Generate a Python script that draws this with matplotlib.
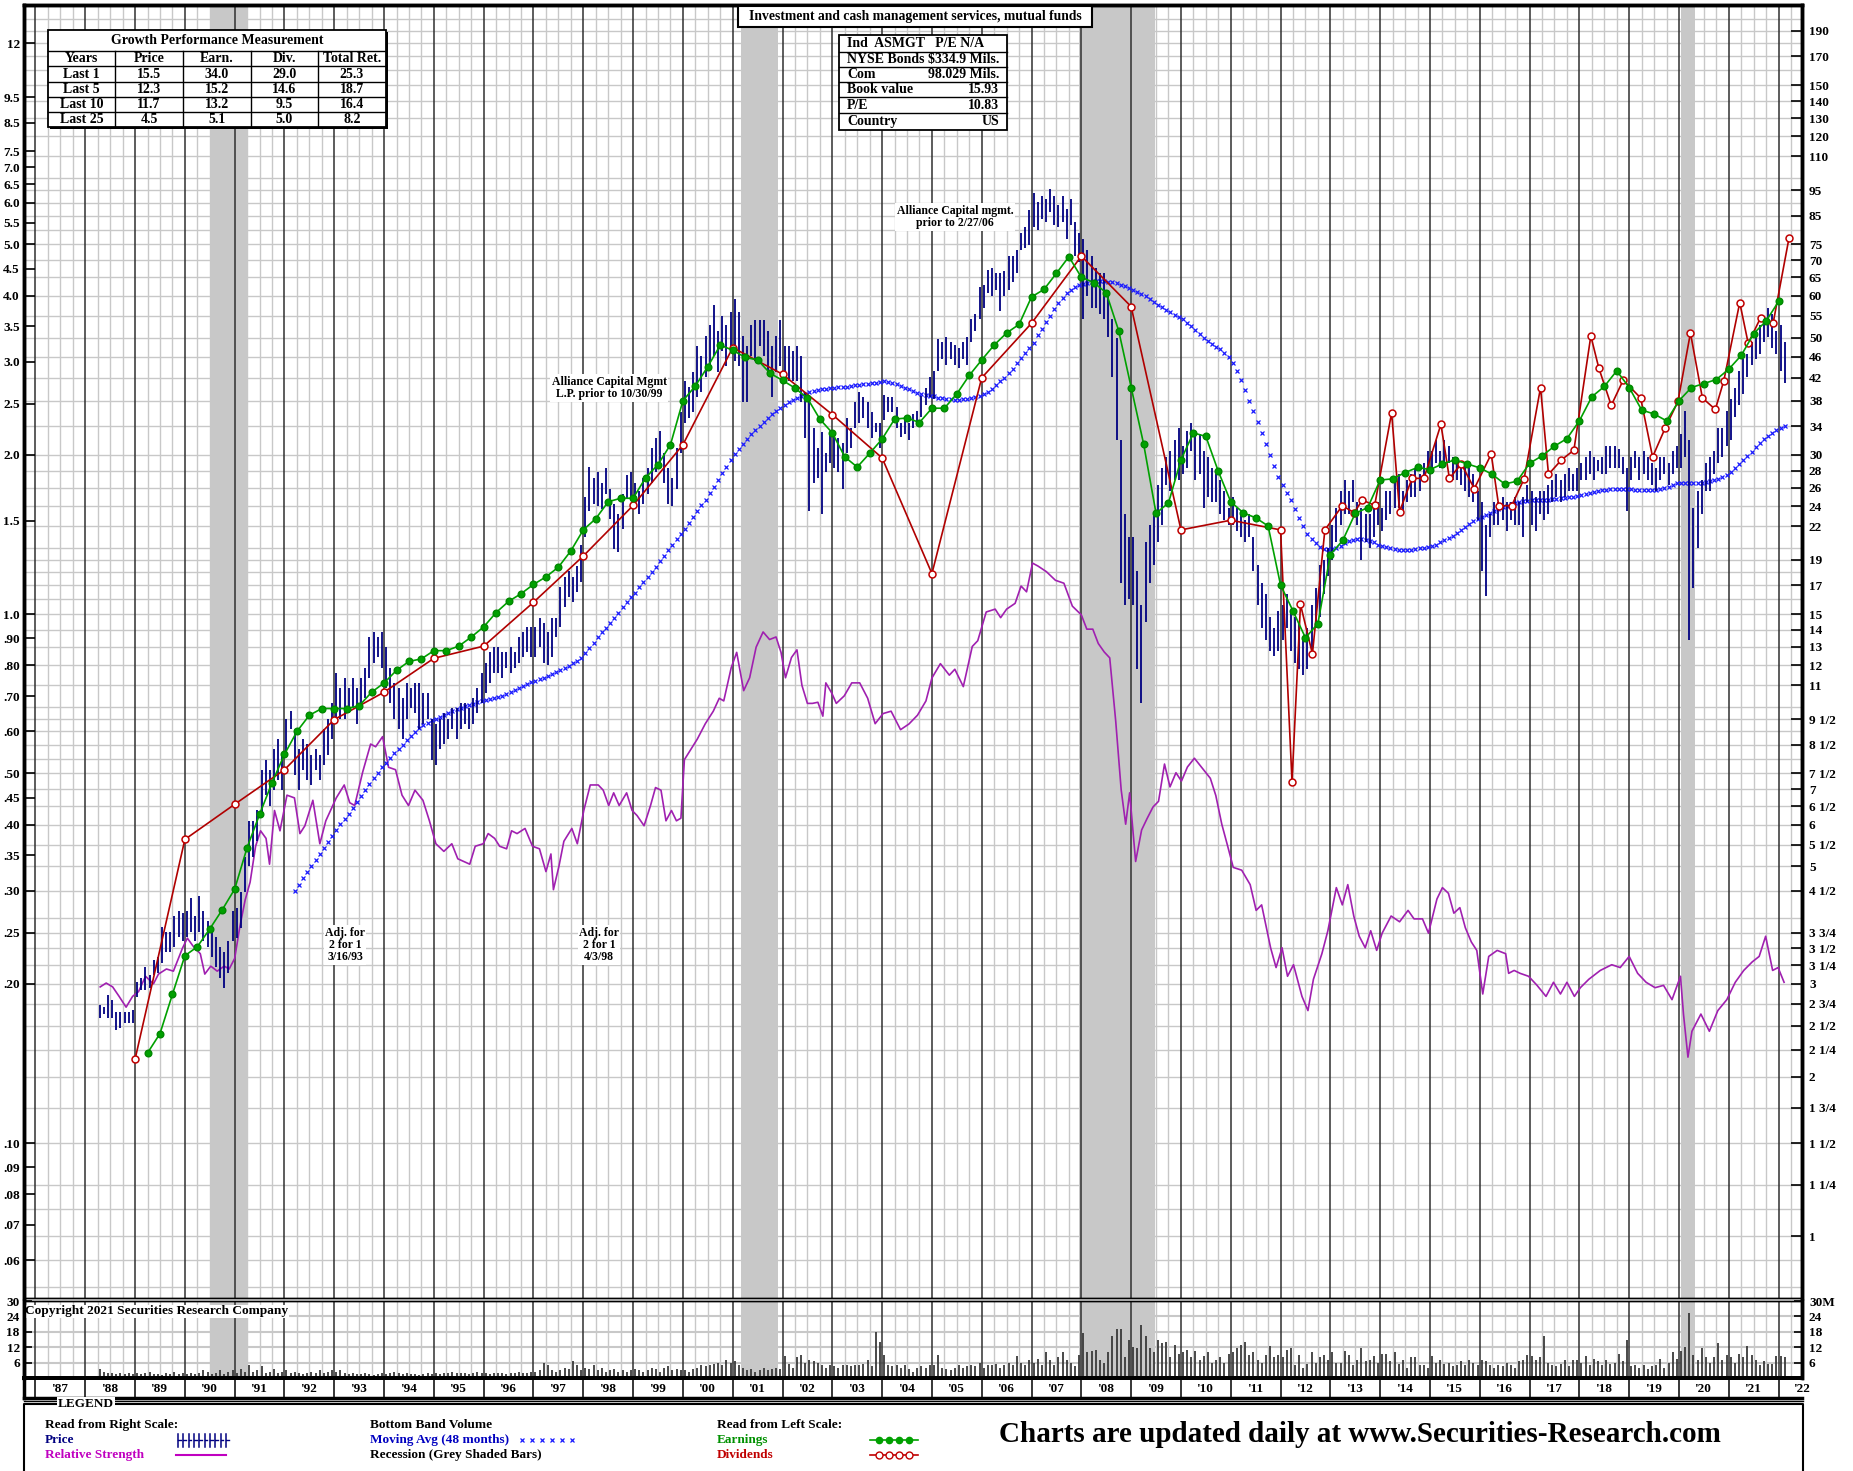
import numpy as np
import matplotlib
matplotlib.use("Agg")
import matplotlib.pyplot as plt
from matplotlib.patches import Rectangle
from matplotlib.ticker import NullLocator

plt.rcParams['font.family'] = ['Liberation Serif', 'DejaVu Serif']
plt.rcParams['font.weight'] = 'bold'

W, H = 1853, 1471
RATIO = 15.0                      # right scale value = 15 x left scale value
XLIM = (1986.77, 2022.47)
YLIM = (0.764, 212.7)             # in right-scale units

# ----------------------------------------------------------------- data
PRICE_START = (1988, 4)           # monthly bars
PRICE_LOW = [
    2.59, 2.63, 2.59, 2.59, 2.45, 2.47, 2.53, 2.53, 2.53,
    2.83, 2.92, 2.92, 2.95, 3.12, 3.15, 3.29, 3.44, 3.44, 3.52, 3.68, 3.61,
    3.68, 3.76, 3.61, 3.76, 3.61, 3.52, 3.37, 3.23, 3.08, 2.95, 3.15, 3.61,
    3.66, 3.83, 4.47, 5.00, 5.22, 5.58, 6.24, 6.82, 6.52, 6.97, 7.29, 6.97,
    8.14, 9.10, 7.45, 6.97, 7.62, 7.29, 7.13, 7.62, 7.29, 7.79, 8.14, 8.71,
    9.31, 9.51, 9.51, 9.74, 9.96, 9.31, 9.96, 10.41, 11.37, 12.15, 12.42, 11.88,
    10.88, 10.18, 9.51, 9.10, 8.71, 9.51, 9.96, 9.74, 9.10, 9.31, 9.51, 7.96,
    7.79, 8.33, 8.52, 8.71, 9.10, 8.71, 9.10, 9.31, 9.10, 9.31, 9.74, 10.18,
    10.64, 11.12, 11.62, 11.62, 11.37, 11.88, 11.62, 11.88, 12.15, 12.42, 12.70, 12.42,
    12.42, 12.99, 12.15, 12.02, 12.42, 13.58, 14.19, 15.44, 16.15, 15.79, 16.51, 17.26,
    21.0, 23.5, 24.2, 24.0, 23.7, 25.3, 22.7, 19.9, 19.7, 21.7, 24.8, 24.8,
    23.7, 23.2, 24.2, 25.3, 26.5, 27.8, 29.0, 26.5, 24.2, 24.0, 25.9, 30.3,
    34.5, 35.3, 36.1, 38.6, 39.5, 42.2, 44.1, 46.1, 43.1, 47.1, 44.1, 47.1,
    45.1, 44.1, 37.8, 37.8, 46.1, 45.1, 48.2, 46.1, 43.1, 38.6, 43.1, 44.1,
    43.1, 41.3, 41.3, 41.3, 37.8, 32.3, 23.5, 26.5, 27.1, 23.2, 27.8, 29.0,
    28.4, 27.8, 25.9, 30.3, 30.9, 33.8, 34.5, 35.3, 33.8, 32.3, 33.1, 30.9,
    34.9, 36.1, 36.1, 33.8, 32.5, 32.9, 32.0, 33.7, 34.5, 35.4, 37.2, 38.6,
    38.2, 43.2, 45.5, 44.3, 45.5, 44.3, 43.8, 45.5, 44.3, 49.0, 51.5, 54.1,
    56.9, 60.6, 59.8, 61.4, 56.2, 59.8, 61.4, 63.7, 66.1, 73.1, 73.9, 74.9,
    80.8, 79.8, 83.9, 82.8, 86.4, 81.8, 80.8, 82.8, 76.8, 81.8, 71.3, 69.5,
    54.1, 59.8, 56.9, 56.9, 55.5, 54.1, 50.2, 42.2, 32.0, 17.2, 15.6, 16.0,
    15.6, 11.8, 10.2, 14.5, 17.2, 18.6, 20.5, 22.1, 26.3, 25.6, 26.9, 26.9,
    27.6, 28.3, 30.5, 26.9, 27.6, 23.8, 25.0, 24.4, 24.4, 23.2, 22.6, 22.1,
    22.1, 21.5, 21.0, 20.5, 21.0, 18.1, 15.6, 14.1, 13.4, 12.8, 12.5, 12.8,
    13.4, 14.1, 12.8, 12.1, 11.8, 11.5, 11.8, 12.8, 14.1, 14.8, 16.4, 17.7,
    19.0, 20.5, 22.1, 23.2, 23.2, 24.4, 22.1, 19.0, 20.5, 20.0, 21.0, 22.1,
    21.5, 22.6, 23.2, 23.8, 23.8, 23.2, 24.4, 25.0, 25.0, 25.6, 26.9, 28.3,
    27.6, 29.0, 28.3, 28.3, 29.0, 26.9, 26.9, 26.3, 25.6, 25.0, 24.4, 22.6,
    18.1, 16.2, 21.0, 22.1, 22.1, 22.6, 21.5, 22.6, 22.1, 22.1, 21.0, 24.4,
    22.1, 21.5, 23.2, 22.6, 23.2, 24.4, 25.0, 24.4, 25.0, 25.6, 25.6, 25.6,
    26.9, 26.9, 27.6, 26.9, 28.0, 27.6, 27.6, 28.3, 28.3, 28.3, 27.6, 23.5,
    26.9, 28.3, 26.9, 27.6, 26.9, 26.3, 25.6, 26.9, 27.6, 26.3, 27.6, 28.3,
    28.3, 29.7, 13.4, 16.8, 20.0, 23.2, 25.6, 25.6, 27.6, 29.0, 29.7, 31.2,
    32.0, 35.4, 37.2, 39.1, 42.2, 44.3, 45.5, 46.6, 49.0, 50.2, 47.8, 46.6,
    43.2, 41.1,
]
PRICE_HIGH = [
    2.74, 2.71, 2.86, 2.79, 2.65, 2.65, 2.65, 2.65, 2.68,
    3.02, 3.08, 3.23, 3.12, 3.33, 3.37, 3.84, 3.76, 3.76, 4.03, 4.12, 4.08,
    4.12, 4.35, 4.03, 4.40, 4.12, 3.95, 3.84, 3.68, 3.52, 3.44, 3.61, 4.12,
    4.18, 4.47, 5.22, 6.10, 6.10, 6.38, 7.62, 7.96, 7.62, 8.33, 8.71, 8.14,
    9.51, 9.83, 9.10, 8.33, 8.71, 8.52, 8.14, 8.33, 8.14, 9.10, 9.51, 10.17,
    11.62, 10.88, 11.37, 10.88, 11.37, 10.88, 11.37, 11.88, 13.58, 13.88, 13.58, 13.88,
    12.99, 11.88, 11.12, 10.88, 10.41, 11.12, 10.88, 11.12, 11.12, 10.64, 10.64, 9.51,
    9.31, 9.51, 9.74, 9.51, 9.96, 9.96, 10.18, 10.18, 9.96, 10.41, 10.88, 11.62,
    12.15, 12.70, 12.99, 12.99, 12.70, 12.70, 12.99, 12.70, 13.58, 13.88, 14.19, 14.19,
    14.19, 14.77, 14.44, 13.88, 14.77, 14.77, 16.88, 17.66, 18.06, 17.66, 18.47, 20.25,
    25.0, 28.5, 27.1, 27.8, 26.5, 28.4, 25.9, 24.2, 23.2, 25.3, 27.5, 27.8,
    26.5, 25.6, 27.1, 28.4, 30.9, 32.3, 33.3, 30.3, 28.4, 27.1, 30.9, 36.1,
    41.3, 40.4, 43.1, 48.2, 46.1, 50.4, 52.7, 57.5, 51.5, 55.0, 52.7, 56.0,
    59.2, 56.0, 50.4, 48.2, 52.7, 54.0, 54.0, 54.0, 51.5, 48.2, 50.4, 54.0,
    48.2, 48.2, 47.1, 48.2, 46.1, 39.5, 37.8, 33.8, 30.9, 33.1, 30.3, 33.1,
    33.1, 32.3, 31.6, 35.3, 33.8, 37.8, 39.5, 38.6, 37.8, 36.1, 34.5, 34.5,
    39.0, 38.6, 38.6, 36.9, 34.5, 35.0, 34.5, 35.8, 36.3, 38.7, 40.1, 42.2,
    43.2, 49.6, 49.0, 50.2, 49.0, 48.4, 47.8, 49.0, 50.2, 54.1, 55.5, 62.2,
    62.9, 67.0, 67.8, 66.1, 66.1, 66.9, 71.3, 71.3, 73.1, 78.8, 80.8, 87.0,
    93.8, 90.3, 92.6, 91.5, 95.5, 92.6, 89.2, 92.6, 87.6, 91.5, 82.8, 78.8,
    76.8, 73.1, 71.3, 67.8, 66.1, 66.1, 61.4, 54.1, 50.0, 32.0, 23.2, 21.0,
    21.0, 18.1, 15.6, 20.5, 22.1, 23.2, 26.3, 28.3, 29.7, 30.5, 32.0, 33.7,
    31.2, 33.3, 34.5, 32.9, 32.9, 30.5, 29.7, 28.3, 27.6, 26.9, 25.6, 23.8,
    25.0, 23.8, 23.2, 22.6, 23.2, 21.0, 18.6, 17.2, 16.4, 14.8, 14.1, 15.2,
    15.6, 16.4, 15.2, 14.8, 14.5, 13.4, 14.1, 15.6, 16.8, 18.6, 19.0, 20.0,
    22.1, 23.8, 25.6, 26.9, 25.6, 26.9, 24.4, 23.8, 23.2, 23.2, 23.8, 24.4,
    23.8, 25.6, 25.6, 26.9, 27.6, 25.6, 26.9, 27.6, 28.3, 27.6, 29.0, 30.5,
    30.5, 32.0, 30.5, 32.0, 31.2, 29.7, 29.7, 29.0, 29.0, 28.3, 27.6, 25.6,
    24.4, 22.1, 23.2, 24.4, 24.4, 25.0, 24.4, 24.4, 25.0, 24.4, 25.0, 26.3,
    25.6, 25.0, 25.6, 25.6, 26.3, 26.9, 27.6, 26.9, 27.6, 28.3, 27.6, 28.3,
    29.0, 29.7, 30.5, 29.7, 29.4, 29.7, 31.2, 31.2, 31.2, 30.8, 29.7, 28.3,
    29.7, 30.5, 29.7, 30.5, 29.7, 29.0, 28.3, 29.7, 29.7, 29.0, 30.5, 31.2,
    32.9, 36.3, 32.0, 23.8, 25.6, 26.9, 29.0, 29.7, 30.5, 33.7, 33.7, 36.3,
    38.2, 40.1, 43.2, 45.5, 46.6, 49.0, 51.5, 52.8, 54.1, 56.9, 55.5, 51.5,
    52.8, 49.0,
]
VOLUME = [   # millions of shares, monthly, same months as price bars
    3.5, 2.5, 2, 2, 1.5, 2, 1.5, 2, 1.5,
    2, 1.5, 2, 2.5, 1.5, 1.5, 1, 2, 1.5, 2.5, 1.5, 2,
    1.5, 2, 1.5, 2, 3, 2.5, 1.5, 2, 3, 1.5, 2.5, 3,
    2, 3.5, 2.5, 5, 2.5, 3, 4.5, 2, 2.5, 3.5, 2, 2.5,
    3, 2, 2.5, 2, 1.5, 2, 2.5, 2, 3, 2, 2.5, 3,
    2.5, 3, 2, 1.5, 2, 1.5, 1.5, 2, 1.5, 1, 1.5, 2,
    1.5, 2, 2.5, 2, 1.5, 2, 1.5, 1.5, 1, 1.5, 2, 1.5,
    2, 1.5, 2, 2, 2.5, 2, 2, 2, 1.5, 2, 2.5, 2,
    2, 1.5, 2, 2, 2, 1.5, 2, 2, 2.5, 2, 2, 2.5,
    2.5, 3, 6, 5, 3, 2.5, 3, 4, 3.5, 6.5, 5, 3,
    4, 3.5, 5, 3, 4, 2.5, 3, 3.5, 2.5, 3, 2.5, 3,
    3.5, 3, 2.5, 3, 4, 3.5, 2.5, 4, 4.5, 3, 3.5, 3,
    3, 2.5, 3.5, 4, 5, 4.5, 5, 5.5, 6, 5, 7, 6,
    6.5, 5, 4, 3, 3.5, 2.5, 3, 4, 3, 3.5, 4, 3.5,
    8.5, 5.5, 4, 8, 9, 6, 7, 6.5, 6, 5, 4, 5,
    4.5, 4, 5, 5, 4.5, 5, 5, 5.5, 7, 4.5, 18, 14,
    9, 5, 4.5, 5, 4, 5, 3.5, 2.5, 4, 4.5, 4, 5,
    5, 9, 4, 3.5, 3, 4, 5, 4, 4.5, 5, 4.5, 6,
    4, 5, 5, 5.5, 4, 5, 6, 5, 8.5, 6, 5, 7,
    6, 7.5, 5, 10, 7, 5, 8, 10, 7, 6, 4.5, 9,
    17.5, 10, 10.5, 11, 7, 6, 10, 16.5, 19, 19, 8, 15,
    12, 11.5, 20.5, 16.5, 11.5, 10, 15, 13.5, 14, 8, 13, 9.5,
    10, 11, 8, 10.5, 7, 8.5, 10, 6, 7, 8, 6, 9.5,
    10, 11.5, 13, 14, 9, 10, 7, 6, 9, 12.5, 8, 9,
    8, 11, 11.5, 5, 9, 4, 5.5, 10, 6, 8, 9, 7,
    10, 6, 6, 10.5, 9, 5, 7, 11.5, 6.5, 7, 8.5, 6,
    9.5, 9.5, 6.5, 10, 5.5, 7, 4, 8, 8, 5, 5, 4,
    8.5, 6, 7, 5.5, 6, 4.5, 5, 6.5, 5, 7, 6, 5,
    7, 6.5, 5, 4, 5, 4.5, 6, 5, 4, 6.5, 7, 9,
    8.5, 7, 8, 16.5, 6, 5, 4.5, 5.5, 7, 4.5, 7, 7,
    6, 8.5, 5, 7.5, 6.5, 5, 7, 5.5, 6, 9.5, 6.5, 15,
    4.5, 5, 4, 5, 3.5, 4.5, 5, 7.5, 4, 6, 10, 7.5,
    10.5, 12, 25.5, 9, 7, 11.5, 8, 6, 8, 13.5, 7, 9,
    8, 6, 9.5, 8, 12.5, 9, 7, 5, 6.5, 5.5, 5.5, 8.5,
    8.5, 8,
]
MA_START = (1992, 3)              # 48-month moving average, monthly
MA_48 = [
    4.49, 4.62, 4.75, 4.88, 5.01, 5.15, 5.29, 5.43, 5.57, 5.72,
    5.87, 6.02, 6.15, 6.28, 6.45, 6.62, 6.80, 6.98, 7.17, 7.34, 7.52, 7.70,
    7.86, 8.02, 8.18, 8.33, 8.50, 8.66, 8.82, 8.97, 9.12, 9.25, 9.35, 9.45,
    9.52, 9.60, 9.68, 9.76, 9.84, 9.91, 9.98, 10.04, 10.10, 10.16, 10.21, 10.26,
    10.30, 10.35, 10.40, 10.46, 10.52, 10.60, 10.68, 10.77, 10.87, 10.97, 11.07, 11.16,
    11.22, 11.30, 11.38, 11.47, 11.56, 11.66, 11.76, 11.87, 11.98, 12.10, 12.22, 12.40,
    12.65, 12.95, 13.25, 13.55, 13.85, 14.15, 14.45, 14.78, 15.10, 15.45, 15.80, 16.15,
    16.45, 16.85, 17.25, 17.65, 18.05, 18.45, 18.90, 19.35, 19.80, 20.30, 20.80, 21.30,
    21.7, 22.3, 22.9, 23.5, 24.1, 24.7, 25.4, 26.1, 26.9, 27.7, 28.5, 29.4,
    30.1, 30.8, 31.5, 32.2, 32.8, 33.4, 34.0, 34.6, 35.2, 35.8, 36.3, 36.8,
    37.3, 37.7, 38.1, 38.5, 38.8, 39.1, 39.4, 39.6, 39.8, 39.9, 40.0, 40.1,
    40.2, 40.3, 40.3, 40.4, 40.5, 40.6, 40.7, 40.8, 40.9, 41.0, 41.1, 41.2,
    41.3, 41.2, 41.0, 40.8, 40.5, 40.2, 39.9, 39.6, 39.3, 39.1, 38.9, 38.8,
    38.7, 38.5, 38.4, 38.3, 38.2, 38.1, 38.1, 38.2, 38.3, 38.4, 38.6, 38.8,
    39.1, 39.5, 40.0, 40.6, 41.3, 42.0, 42.8, 43.7, 44.7, 45.7, 46.7, 47.7,
    48.9, 50.5, 52.0, 53.5, 55.0, 56.6, 58.1, 59.5, 60.6, 61.5, 62.2, 62.8,
    63.2, 63.5, 63.8, 64.0, 64.1, 64.0, 63.8, 63.6, 63.3, 62.9, 62.5, 62.1,
    61.6, 61.0, 60.4, 59.8, 59.1, 58.4, 57.7, 57.0, 56.4, 55.8, 55.2, 54.7,
    54.1, 53.3, 52.5, 51.6, 50.8, 50.0, 49.3, 48.7, 48.0, 47.5, 46.8, 46.0,
    44.8, 43.3, 41.6, 39.8, 38.0, 36.3, 34.6, 33.0, 31.5, 30.0, 28.6, 27.3,
    26.3, 25.4, 24.6, 23.7, 22.8, 22.0, 21.3, 20.8, 20.4, 20.1, 19.9, 19.9,
    19.9, 20.0, 20.2, 20.4, 20.6, 20.7, 20.8, 20.8, 20.7, 20.6, 20.5, 20.3,
    20.2, 20.1, 20.0, 19.9, 19.8, 19.8, 19.8, 19.8, 19.9, 20.0, 20.0, 20.1,
    20.2, 20.3, 20.5, 20.7, 20.9, 21.1, 21.4, 21.6, 21.9, 22.2, 22.5, 22.7,
    22.9, 23.1, 23.3, 23.5, 23.7, 23.9, 24.0, 24.2, 24.3, 24.4, 24.5, 24.5,
    24.6, 24.6, 24.6, 24.7, 24.7, 24.8, 24.8, 24.9, 24.9, 25.0, 25.0, 25.1,
    25.2, 25.3, 25.4, 25.5, 25.6, 25.7, 25.8, 25.9, 25.9, 25.9, 25.9, 25.9,
    25.9, 25.8, 25.7, 25.7, 25.7, 25.8, 25.8, 25.9, 26.0, 26.1, 26.3, 26.5,
    26.6, 26.6, 26.6, 26.6, 26.6, 26.6, 26.7, 26.8, 26.9, 27.0, 27.2, 27.5,
    27.9, 28.3, 28.8, 29.3, 29.8, 30.4, 31.0, 31.6, 32.1, 32.6, 33.0, 33.4,
    33.7, 34.0,
]
EARN_START, EARN_STEP = 1989.25, 0.25     # quarterly earnings (left scale)
EARNINGS = [
    0.148, 0.161, 0.191, 0.226, 0.235, 0.254, 0.276, 0.302, 0.362, 0.418,
    0.480, 0.543, 0.600, 0.644, 0.663, 0.663, 0.663, 0.671, 0.712, 0.741,
    0.783, 0.814, 0.823, 0.853, 0.853, 0.870, 0.905, 0.946, 1.007, 1.057,
    1.093, 1.138, 1.176, 1.227, 1.317, 1.443, 1.515, 1.631, 1.656, 1.656,
    1.810, 1.918, 2.091, 2.532, 2.700, 2.938, 3.225, 3.155, 3.058, 3.024,
    2.854, 2.767, 2.676, 2.560, 2.337, 2.201, 1.983, 1.897, 2.014, 2.143,
    2.337, 2.349, 2.303, 2.451, 2.451, 2.609, 2.827, 3.024, 3.227, 3.401,
    3.530, 3.979, 4.111, 4.410, 4.740, 4.334, 4.236, 4.050, 3.434, 2.682,
    2.099, 1.551, 1.623, 1.957, 2.201, 2.168, 1.862, 1.631, 1.555, 1.521,
    1.468, 1.135, 1.014, 0.902, 0.960, 1.296, 1.379, 1.551, 1.590, 1.793,
    1.802, 1.852, 1.894, 1.876, 1.923, 1.957, 1.923, 1.890, 1.838, 1.762,
    1.784, 1.928, 1.992, 2.078, 2.147, 2.320, 2.576, 2.694, 2.884, 2.682,
    2.432, 2.390, 2.320, 2.532, 2.682, 2.729, 2.777, 2.905, 3.084, 3.392,
    3.583, 3.901,
]
DIVIDENDS = [  # (date, value on left scale)
    (1989.0, 0.144), (1990.0, 0.375), (1991.0, 0.437), (1992.0, 0.508),
    (1993.0, 0.632), (1994.0, 0.712), (1995.0, 0.825), (1996.0, 0.870),
    (1997.0, 1.053), (1998.0, 1.288), (1999.0, 1.605), (2000.0, 2.091),
    (2001.0, 3.190), (2002.0, 2.842), (2003.0, 2.384), (2004.0, 1.974),
    (2005.0, 1.193), (2006.0, 2.798), (2007.0, 3.548), (2008.0, 4.752),
    (2009.0, 3.815), (2010.0, 1.443), (2011.0, 1.505), (2012.0, 1.443),
    (2012.23, 0.482), (2012.40, 1.043), (2012.64, 0.841), (2012.89, 1.443),
    (2013.24, 1.603), (2013.48, 1.555), (2013.64, 1.643), (2013.89, 1.606),
    (2014.23, 2.402), (2014.39, 1.563), (2014.64, 1.806), (2014.88, 1.806),
    (2015.22, 2.285), (2015.39, 1.806), (2015.63, 1.923), (2015.89, 1.727),
    (2016.23, 2.007), (2016.38, 1.603), (2016.64, 1.603), (2016.89, 1.802),
    (2017.22, 2.682), (2017.38, 1.838), (2017.64, 1.957), (2017.89, 2.042),
    (2018.23, 3.357), (2018.39, 2.920), (2018.64, 2.481), (2018.88, 2.770),
    (2019.23, 2.563), (2019.47, 1.982), (2019.72, 2.245), (2019.98, 2.525),
    (2020.23, 3.401), (2020.47, 2.563), (2020.73, 2.438), (2020.90, 2.763),
    (2021.22, 3.882), (2021.39, 3.250), (2021.64, 3.637), (2021.89, 3.548),
    (2022.21, 5.147),
]
REL_STRENGTH = [  # (date, value on right scale)
    (1988.30, 2.96), (1988.42, 3.01), (1988.55, 2.96), (1988.68, 2.84), (1988.82, 2.71),
    (1988.95, 2.84), (1989.07, 2.90), (1989.21, 3.10), (1989.37, 3.00), (1989.47, 3.13),
    (1989.63, 3.20), (1989.77, 3.17), (1989.95, 3.50), (1990.05, 3.66), (1990.16, 3.54),
    (1990.31, 3.42), (1990.40, 3.13), (1990.52, 3.24), (1990.65, 3.17), (1990.79, 3.24),
    (1990.89, 3.20), (1991.00, 3.35), (1991.10, 3.83), (1991.21, 4.32), (1991.31, 4.67),
    (1991.42, 5.46), (1991.52, 5.84), (1991.63, 5.65), (1991.70, 5.05), (1991.80, 6.38),
    (1991.91, 5.84), (1992.05, 6.82), (1992.20, 6.74), (1992.31, 5.77), (1992.41, 5.97),
    (1992.57, 6.67), (1992.71, 5.52), (1992.83, 6.10), (1993.04, 6.74), (1993.20, 7.13),
    (1993.31, 6.60), (1993.41, 6.52), (1993.57, 7.54), (1993.73, 8.52), (1993.83, 8.42),
    (1993.97, 8.80), (1994.09, 7.70), (1994.23, 7.62), (1994.36, 6.82), (1994.49, 6.52),
    (1994.62, 6.97), (1994.78, 6.67), (1994.91, 6.10), (1995.04, 5.52), (1995.20, 5.34),
    (1995.36, 5.52), (1995.48, 5.17), (1995.72, 5.05), (1995.83, 5.46), (1995.99, 5.52),
    (1996.09, 5.77), (1996.22, 5.65), (1996.32, 5.46), (1996.46, 5.40), (1996.56, 5.84),
    (1996.67, 5.77), (1996.83, 5.90), (1996.98, 5.46), (1997.12, 5.40), (1997.25, 4.89),
    (1997.35, 5.28), (1997.40, 4.52), (1997.51, 5.00), (1997.61, 5.58), (1997.77, 5.90),
    (1997.88, 5.52), (1998.01, 6.38), (1998.14, 7.13), (1998.30, 7.13), (1998.40, 6.97),
    (1998.51, 6.52), (1998.61, 6.89), (1998.72, 6.52), (1998.87, 6.89), (1998.98, 6.38),
    (1999.08, 6.24), (1999.22, 5.97), (1999.35, 6.52), (1999.45, 7.05), (1999.56, 6.97),
    (1999.66, 6.10), (1999.77, 6.38), (1999.87, 6.10), (1999.96, 6.17), (2000.03, 7.96),
    (2000.13, 8.24), (2000.29, 8.71), (2000.45, 9.31), (2000.61, 9.83), (2000.73, 10.40),
    (2000.82, 10.28), (2000.97, 11.88), (2001.08, 12.70), (2001.22, 10.75), (2001.34, 11.37),
    (2001.47, 12.99), (2001.61, 13.88), (2001.74, 13.43), (2001.87, 13.58), (2001.97, 12.70),
    (2002.06, 11.37), (2002.18, 12.42), (2002.29, 12.84), (2002.39, 11.00), (2002.50, 10.17),
    (2002.60, 10.17), (2002.71, 10.22), (2002.81, 9.62), (2002.87, 11.12), (2002.99, 10.63),
    (2003.08, 10.17), (2003.24, 10.51), (2003.39, 11.12), (2003.55, 11.12), (2003.71, 10.40),
    (2003.86, 9.31), (2004.02, 9.73), (2004.18, 9.83), (2004.37, 9.07), (2004.54, 9.30),
    (2004.71, 9.66), (2004.88, 10.28), (2005.00, 11.36), (2005.17, 12.09), (2005.35, 11.50),
    (2005.46, 11.80), (2005.63, 10.94), (2005.81, 13.03), (2005.92, 13.36), (2006.09, 15.14),
    (2006.27, 15.33), (2006.38, 14.77), (2006.50, 15.33), (2006.67, 15.72), (2006.79, 16.95),
    (2006.90, 16.53), (2007.02, 18.73), (2007.13, 18.49), (2007.30, 18.04), (2007.48, 17.38),
    (2007.65, 17.16), (2007.82, 15.53), (2008.00, 14.95), (2008.11, 14.05), (2008.23, 14.05),
    (2008.34, 13.20), (2008.46, 12.72), (2008.57, 12.40), (2008.69, 9.42), (2008.80, 6.98),
    (2008.89, 6.01), (2008.97, 6.89), (2009.09, 5.11), (2009.21, 5.86), (2009.32, 6.16),
    (2009.44, 6.48), (2009.55, 6.64), (2009.67, 7.81), (2009.78, 7.07), (2009.90, 7.52),
    (2010.01, 7.25), (2010.13, 7.71), (2010.27, 8.01), (2010.41, 7.71), (2010.59, 7.34),
    (2010.70, 6.81), (2010.82, 6.01), (2010.93, 5.50), (2011.05, 4.98), (2011.22, 4.92),
    (2011.39, 4.62), (2011.51, 4.13), (2011.62, 4.23), (2011.80, 3.51), (2011.91, 3.22),
    (2012.03, 3.51), (2012.14, 3.10), (2012.26, 3.26), (2012.43, 2.84), (2012.55, 2.67),
    (2012.66, 3.06), (2012.83, 3.42), (2012.95, 3.78), (2013.12, 4.56), (2013.24, 4.23),
    (2013.35, 4.62), (2013.47, 4.03), (2013.58, 3.69), (2013.70, 3.51), (2013.81, 3.78),
    (2013.93, 3.47), (2014.04, 3.74), (2014.22, 4.03), (2014.39, 3.93), (2014.56, 4.13),
    (2014.68, 3.98), (2014.85, 3.98), (2014.97, 3.74), (2015.14, 4.34), (2015.25, 4.56),
    (2015.37, 4.45), (2015.48, 4.08), (2015.60, 4.18), (2015.71, 3.83), (2015.83, 3.60),
    (2015.94, 3.47), (2016.06, 2.87), (2016.18, 3.38), (2016.35, 3.47), (2016.52, 3.42),
    (2016.58, 3.14), (2016.69, 3.18), (2016.81, 3.14), (2016.98, 3.10), (2017.15, 2.98),
    (2017.33, 2.84), (2017.48, 3.02), (2017.62, 2.87), (2017.75, 3.02), (2017.90, 2.84),
    (2018.02, 2.95), (2018.19, 3.06), (2018.42, 3.18), (2018.65, 3.26), (2018.82, 3.22),
    (2019.00, 3.38), (2019.17, 3.14), (2019.34, 3.02), (2019.52, 2.95), (2019.69, 2.98),
    (2019.86, 2.80), (2020.03, 3.10), (2020.09, 2.63), (2020.18, 2.18), (2020.26, 2.44),
    (2020.44, 2.63), (2020.61, 2.44), (2020.78, 2.67), (2020.96, 2.80), (2021.13, 3.02),
    (2021.30, 3.18), (2021.47, 3.30), (2021.61, 3.38), (2021.74, 3.69), (2021.88, 3.18),
    (2021.99, 3.22), (2022.11, 3.02),
]
RECESSIONS = [(1990.50, 1991.25), (2001.17, 2001.90), (2007.96, 2009.48), (2020.05, 2020.32)]

LEFT_TICKS = [12, 9.5, 8.5, 7.5, 7.0, 6.5, 6.0, 5.5, 5.0, 4.5, 4.0, 3.5, 3.0, 2.5, 2.0, 1.5,
              1.0, .90, .80, .70, .60, .50, .45, .40, .35, .30, .25, .20, .10, .09, .08, .07, .06]
LEFT_LABELS = ['12', '9.5', '8.5', '7.5', '7.0', '6.5', '6.0', '5.5', '5.0', '4.5', '4.0', '3.5',
               '3.0', '2.5', '2.0', '1.5', '1.0', '.90', '.80', '.70', '.60', '.50', '.45', '.40',
               '.35', '.30', '.25', '.20', '.10', '.09', '.08', '.07', '.06']
RIGHT_TICKS = [190, 170, 150, 140, 130, 120, 110, 95, 85, 75, 70, 65, 60, 55, 50, 46, 42, 38, 34,
               30, 28, 26, 24, 22, 19, 17, 15, 14, 13, 12, 11, 9.5, 8.5, 7.5, 7, 6.5, 6, 5.5, 5,
               4.5, 3.75, 3.5, 3.25, 3, 2.75, 2.5, 2.25, 2, 1.75, 1.5, 1.25, 1]
RIGHT_LABELS = ['190', '170', '150', '140', '130', '120', '110', '95', '85', '75', '70', '65',
                '60', '55', '50', '46', '42', '38', '34', '30', '28', '26', '24', '22', '19', '17',
                '15', '14', '13', '12', '11', '9 1/2', '8 1/2', '7 1/2', '7', '6 1/2', '6',
                '5 1/2', '5', '4 1/2', '3 3/4', '3 1/2', '3 1/4', '3', '2 3/4', '2 1/2', '2 1/4',
                '2', '1 3/4', '1 1/2', '1 1/4', '1']
GRID_VALUES = [200, 190, 180, 170, 160, 150, 140, 130, 120, 110, 100, 95, 90, 85, 80, 75, 70, 65,
               60, 55, 50, 46, 42, 38, 34, 30, 28, 26, 24, 22, 20, 19, 18, 17, 16, 15, 14, 13, 12,
               11, 10, 9.5, 9, 8.5, 8, 7.5, 7, 6.5, 6, 5.5, 5, 4.5, 4, 3.75, 3.5, 3.25, 3, 2.75,
               2.5, 2.25, 2, 1.75, 1.5, 1.25, 1.125, 1, 0.9, 0.8]
VOL_TICKS = [6, 12, 18, 24, 30]
YEARS = list(range(1987, 2023))
YEAR_LABELS = ["'%02d" % (y % 100) for y in YEARS]

PERF_TITLE = 'Growth Performance Measurement'
PERF_HEADER = ['Years', 'Price', 'Earn.', 'Div.', 'Total Ret.']
PERF_ROWS = [['Last 1', '15.5', '34.0', '29.0', '25.3'],
             ['Last 5', '12.3', '15.2', '14.6', '18.7'],
             ['Last 10', '11.7', '13.2', '9.5', '16.4'],
             ['Last 25', '4.5', '5.1', '5.0', '8.2']]
INFO_ROWS = [('Ind  ASMGT   P/E N/A', ''), ('NYSE Bonds', '$334.9 Mils.'),
             ('Com', '98.029 Mils.'), ('Book value', '15.93'), ('P/E', '10.83'),
             ('Country', 'US')]
TITLE = 'Investment and cash management services, mutual funds'

# ----------------------------------------------------------------- helpers
def month_times(start, n):
    y, m = start
    return np.array([y + (m - 1 + i) / 12.0 for i in range(n)]) + 0.04

def rect(x0, y0, x1, y1):
    return [x0 / W, 1 - y1 / H, (x1 - x0) / W, (y1 - y0) / H]

NAVY = '#000080'
GREEN = '#00a000'
RED = '#c00000'
BLUE = '#1a1aff'
PURPLE = '#a020b0'
GRIDC = '#c8c8c8'
YEARC = '#303030'
RECC = '#c8c8c8'

fig = plt.figure(figsize=(W / 100, H / 100), dpi=100)
fig.patch.set_facecolor('white')

ax = fig.add_axes(rect(24, 5, 1802, 1298))
axv = fig.add_axes(rect(24, 1301, 1802, 1378))
axx = fig.add_axes(rect(24, 1378, 1802, 1398))

quarters = [y + q * 0.25 for y in range(1986, 2023) for q in (1, 2, 3)]
quarters = [q for q in quarters if XLIM[0] < q < XLIM[1]]

# ---- main price pane
ax.set_xlim(*XLIM)
ax.set_yscale('log')
ax.set_ylim(*YLIM)
ax.hlines(GRID_VALUES, XLIM[0], XLIM[1], colors=GRIDC, lw=1.0, zorder=0.5)
ax.vlines(quarters, 0, 1, transform=ax.get_xaxis_transform(), colors=GRIDC, lw=1.0, zorder=0.5)
for a, b in RECESSIONS:
    ax.axvspan(a, b, color=RECC, lw=0, zorder=1)
ax.vlines(YEARS, 0, 1, transform=ax.get_xaxis_transform(), colors=YEARC, lw=1.1, zorder=1.5)

pt = month_times(PRICE_START, len(PRICE_LOW))
ax.vlines(pt, PRICE_LOW, PRICE_HIGH, colors=NAVY, lw=1.3, zorder=4)

rs_t = [p[0] for p in REL_STRENGTH]
rs_v = [p[1] for p in REL_STRENGTH]
ax.plot(rs_t, rs_v, color=PURPLE, lw=1.2, zorder=3)

mt = month_times(MA_START, len(MA_48))
ax.plot(mt, MA_48, ls='none', marker='x', ms=3.4, mew=0.9, color=BLUE, zorder=3.5)

div_t = [p[0] for p in DIVIDENDS]
div_v = np.array([p[1] for p in DIVIDENDS]) * RATIO
ax.plot(div_t, div_v, color='#b00000', lw=1.2, marker='o', ms=5.0, mfc='white',
        mec=RED, mew=1.1, zorder=5)

et = EARN_START + EARN_STEP * np.arange(len(EARNINGS))
ax.plot(et, np.array(EARNINGS) * RATIO, color=GREEN, lw=1.2, marker='o', ms=4.8,
        mfc=GREEN, mec='#008800', zorder=6)

ax.set_yticks([v * RATIO for v in LEFT_TICKS], labels=LEFT_LABELS)
ax.yaxis.set_minor_locator(NullLocator())
ax.tick_params(axis='y', direction='in', length=8, width=1.2, labelsize=9.5, pad=3,
               left=True, right=False)
ax.set_xticks([])
ax2 = ax.twinx()
ax2.set_yscale('log')
ax2.set_ylim(*YLIM)
ax2.set_yticks(RIGHT_TICKS, labels=RIGHT_LABELS)
ax2.yaxis.set_minor_locator(NullLocator())
ax2.tick_params(axis='y', direction='in', length=8, width=1.2, labelsize=9.5, pad=5)
for a_ in (ax, ax2):
    a_.spines['top'].set_linewidth(2.5)
    a_.spines['left'].set_linewidth(2.5)
    a_.spines['right'].set_linewidth(2.5)
    a_.spines['bottom'].set_linewidth(1.0)

# ---- volume pane
axv.set_xlim(*XLIM)
axv.set_ylim(0, 30)
axv.hlines(VOL_TICKS[:-1], XLIM[0], XLIM[1], colors=GRIDC, lw=1.5, zorder=0.5)
axv.vlines(quarters, 0, 1, transform=axv.get_xaxis_transform(), colors=GRIDC, lw=1.0, zorder=0.5)
for a, b in RECESSIONS:
    axv.axvspan(a, b, color=RECC, lw=0, zorder=1)
axv.vlines(YEARS, 0, 1, transform=axv.get_xaxis_transform(), colors=YEARC, lw=1.1, zorder=1.5)
axv.vlines(pt, 0, VOLUME, colors='#3a3a3a', lw=1.3, zorder=3)
axv.set_xticks([])
axv.set_yticks(VOL_TICKS, labels=[str(v) for v in VOL_TICKS])
axv.tick_params(axis='y', direction='in', length=6, width=1.2, labelsize=9.5, pad=3)
axv2 = axv.twinx()
axv2.set_ylim(0, 30)
axv2.set_yticks(VOL_TICKS, labels=[str(v) for v in VOL_TICKS[:-1]] + ['30M'])
axv2.tick_params(axis='y', direction='in', length=6, width=1.2, labelsize=9.5, pad=5)
for a_ in (axv, axv2):
    a_.spines['left'].set_linewidth(2.5)
    a_.spines['right'].set_linewidth(2.5)
    a_.spines['bottom'].set_linewidth(2.8)
    a_.spines['top'].set_linewidth(1.0)
axv.text(XLIM[0] + 0.03, 26.0, 'Copyright 2021 Securities Research Company', fontsize=9.6,
         ha='left', va='center', zorder=6,
         bbox=dict(facecolor='white', edgecolor='none', pad=0.5))

# ---- year label band
axx.set_xlim(*XLIM)
axx.set_ylim(0, 1)
axx.vlines(YEARS, 0, 1, colors='black', lw=1.1)
for y, lab in zip(YEARS, YEAR_LABELS):
    xpos = min(y + 0.5, XLIM[1])
    axx.text(xpos, 0.45, lab, ha='center', va='center', fontsize=9.5, clip_on=False)
axx.set_xticks([])
axx.set_yticks([])
axx.spines['top'].set_linewidth(2.8)
axx.spines['bottom'].set_linewidth(2.5)
axx.spines['left'].set_linewidth(2.5)
axx.spines['right'].set_visible(False)

# ---- overlay in pixel coordinates (tables, notes, legend)
ov = fig.add_axes([0, 0, 1, 1], zorder=20)
ov.set_xlim(0, W)
ov.set_ylim(H, 0)
ov.axis('off')

# performance table
tx0, tx1, ty0, ty1 = 48, 386, 30, 127
ov.add_patch(Rectangle((tx0 + 2, ty0 + 2), tx1 - tx0, ty1 - ty0, facecolor='black', lw=0))
ov.add_patch(Rectangle((tx0, ty0), tx1 - tx0, ty1 - ty0, facecolor='white',
                       edgecolor='black', lw=1.3))
row_lines = [50.5, 66, 81.5, 96.5, 112]
for yl in row_lines:
    ov.plot([tx0, tx1], [yl, yl], color='black', lw=1.0)
col_lines = [115, 183, 251, 318]
for xc in col_lines:
    ov.plot([xc, xc], [row_lines[0], ty1], color='black', lw=1.0)
ov.text((tx0 + tx1) / 2, 40.5, PERF_TITLE, ha='center', va='center', fontsize=10)
col_centers = [81.5, 149, 217, 284.5, 352]
row_centers = [58.5, 74, 89, 104.5, 119.5]
for c, s in zip(col_centers, PERF_HEADER):
    ov.text(c, row_centers[0], s, ha='center', va='center', fontsize=10)
for r, row in zip(row_centers[1:], PERF_ROWS):
    for c, s in zip(col_centers, row):
        ov.text(c, r, s, ha='center', va='center', fontsize=10)

# title box
ov.add_patch(Rectangle((738, 6), 1092 - 738, 21, facecolor='white', edgecolor='black', lw=1.5))
ov.text(915, 16.5, TITLE, ha='center', va='center', fontsize=9.8)

# info box
ix0, ix1, iy0, iy1 = 839, 1007, 35, 130
ov.add_patch(Rectangle((ix0, iy0), ix1 - ix0, iy1 - iy0, facecolor='white',
                       edgecolor='black', lw=1.3))
for yl in [51.5, 67, 82, 97, 112.5]:
    ov.plot([ix0, ix1], [yl, yl], color='black', lw=1.0)
info_centers = [43.5, 59.5, 74.5, 89.5, 105, 121.5]
for yc, (lt, rt) in zip(info_centers, INFO_ROWS):
    ov.text(847, yc, lt, ha='left', va='center', fontsize=10)
    if rt:
        ov.text(999, yc, rt, ha='right', va='center', fontsize=10)

# chart notes
note_box = dict(facecolor='white', edgecolor='none', pad=1.0)
ov.text(609, 388, 'Alliance Capital Mgmt\nL.P. prior to 10/30/99', ha='center', va='center',
        fontsize=8.5, linespacing=1.05, bbox=note_box)
ov.text(955, 217, 'Alliance Capital mgmt.\nprior to 2/27/06', ha='center', va='center',
        fontsize=8.5, linespacing=1.05, bbox=note_box)
ov.text(345, 945, 'Adj. for\n2 for 1\n3/16/93', ha='center', va='center',
        fontsize=8.5, linespacing=1.05, bbox=note_box)
ov.text(599, 945, 'Adj. for\n2 for 1\n4/3/98', ha='center', va='center',
        fontsize=8.5, linespacing=1.05, bbox=note_box)

# legend frame
ov.plot([24, 24, 1803, 1803], [1471, 1403.5, 1403.5, 1471], color='black', lw=1.5)
ov.plot([24, 1803], [1401, 1401], color='black', lw=1.0)
ov.text(58, 1404, 'LEGEND', ha='left', va='center', fontsize=9.5,
        bbox=dict(facecolor='white', edgecolor='none', pad=1.0))
fs = 9.5
ov.text(45, 1425, 'Read from Right Scale:', ha='left', va='center', fontsize=fs)
ov.text(45, 1440, 'Price', ha='left', va='center', fontsize=fs, color=NAVY)
ov.text(45, 1455, 'Relative Strength', ha='left', va='center', fontsize=fs, color='#c000c0')
for xs in np.linspace(178, 226, 10):
    ov.plot([xs, xs], [1434, 1447], color=NAVY, lw=1.1)
    ov.plot([xs, xs + 2.5], [1440, 1440], color=NAVY, lw=1.0)
ov.plot([176, 226], [1455, 1455], color='#c000c0', lw=1.5)
ov.text(370, 1425, 'Bottom Band Volume', ha='left', va='center', fontsize=fs)
ov.text(370, 1440, 'Moving Avg (48 months)', ha='left', va='center', fontsize=fs, color='#0000c0')
ov.plot(np.linspace(522, 572, 6), [1440] * 6, ls='none', marker='x', ms=3.4, mew=0.9, color=BLUE)
ov.text(370, 1455, 'Recession (Grey Shaded Bars)', ha='left', va='center', fontsize=fs)
ov.text(717, 1425, 'Read from Left Scale:', ha='left', va='center', fontsize=fs)
ov.text(717, 1440, 'Earnings', ha='left', va='center', fontsize=fs, color='#009000')
ov.text(717, 1455, 'Dividends', ha='left', va='center', fontsize=fs, color=RED)
ov.plot([870, 918], [1440, 1440], color=GREEN, lw=1.2)
ov.plot(np.linspace(879, 909, 4), [1440] * 4, ls='none', marker='o', ms=4.5, color=GREEN)
ov.plot([870, 918], [1455, 1455], color=RED, lw=1.2)
ov.plot(np.linspace(879, 909, 4), [1455] * 4, ls='none', marker='o', ms=5, mfc='white',
        mec=RED, mew=1.0)
ov.text(1360, 1434, 'Charts are updated daily at www.Securities-Research.com', ha='center',
        va='center', fontsize=21)

fig.savefig('out.png', dpi=100, facecolor='white')
